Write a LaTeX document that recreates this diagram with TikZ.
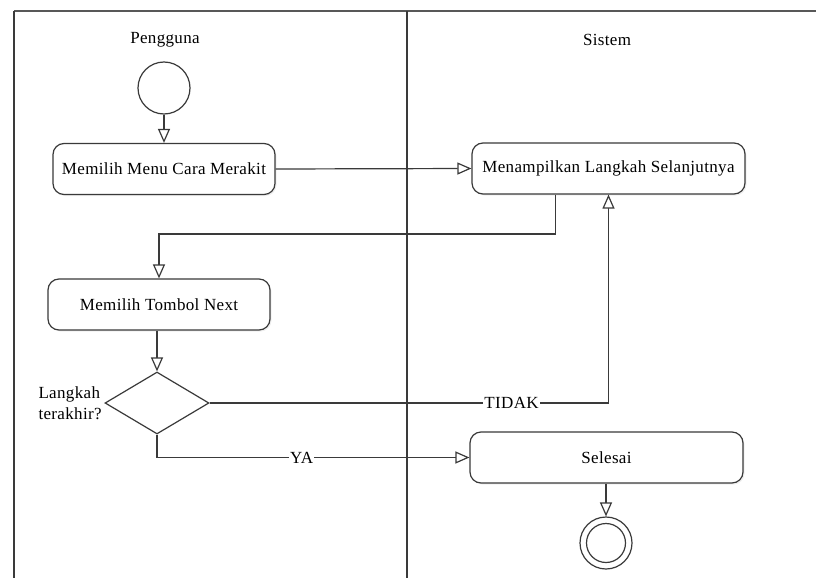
\documentclass[tikz,border=0pt]{standalone}
\usepackage{fontspec}
\setmainfont{Liberation Serif}[LetterSpace=2]
\usetikzlibrary{arrows.meta,shapes.geometric,shadows}
\definecolor{ink}{HTML}{3A3A3A}
\begin{document}
\begin{tikzpicture}[x=1pt,y=-1pt,
  font=\fontsize{17}{21}\selectfont,
  frame/.style={draw=ink, line width=1.2pt},
  activity/.style={draw=ink, line width=1.2pt, rounded corners=11pt, fill=white,
    minimum width=#1, minimum height=51pt, inner sep=0pt,
    drop shadow={opacity=0.12, shadow xshift=1.5pt, shadow yshift=-1.5pt}},
  flow/.style={draw=ink, line width=1.2pt,
    -{Triangle[open,length=14pt,width=12pt,fill=white]}},
  lbl/.style={fill=white, inner sep=1pt},
  startnode/.style={circle, draw=ink, line width=1.2pt, minimum size=52pt, inner sep=0pt},
  decision/.style={diamond, draw=ink, line width=1.2pt, minimum width=104pt,
    minimum height=62pt, inner sep=0pt, aspect=1.68}]
  % canvas
  \useasboundingbox (0,0) rectangle (816,578);
  \fill[white] (0,0) rectangle (816,578);

  % swimlane frame
  \coordinate (tl) at (14,11);
  \coordinate (tr) at (816,11);
  \coordinate (bl) at (14,578);
  \coordinate (mt) at (407,11);
  \coordinate (mb) at (407,578);
  \draw[draw=ink!85, line width=2pt] (tl) -- (tr);
  \draw[frame] (tl) -- (bl);
  \draw[frame] (mt) -- (mb);

  % lane titles
  \node (laneA) at (165,40) {Pengguna};
  \node (laneB) at (607,40) {Sistem};

  % activities
  \node[startnode] (start) at (164,88) {};
  \node[activity=222pt] (menu) at (164,169) {Memilih Menu Cara Merakit};
  \node[activity=273pt] (show) at (608.5,168.5) {Menampilkan Langkah Selanjutnya};
  \node[activity=222pt] (next) at (159,304.5) {Memilih Tombol Next};
  \node[decision] (dec) at (157,403) {};
  \node[anchor=west, align=left] (ask) at (35,403) {Langkah\\terakhir?};
  \node[activity=273pt] (done) at (606.5,457.5) {Selesai};
  \node[startnode] (stop) at (606,543) {};
  \node[circle, draw=ink, line width=1.2pt, minimum size=39pt, inner sep=0pt] (stopin) at (stop) {};

  % junction points
  \coordinate (j1) at (159,234);
  \coordinate (j2) at (157,457.5);

  % control flow
  \draw[flow] (start) -- (menu.north);
  \draw[flow] (menu.east) -- (show.west);
  \draw[flow] ([xshift=-53pt]show.south) |- (j1) -- (next.north);
  \draw[flow] (next.south -| dec.north) -- (dec.north);
  \draw[flow] (dec.east) -- node[lbl, pos=0.757] {TIDAK} (dec.east -| show.south) -- (show.south);
  \draw[flow] (dec.south) -- (j2) -- node[lbl, pos=0.463] {YA} (done.west);
  \draw[flow] (done.south -| stop.north) -- (stop.north);
\end{tikzpicture}
\end{document}
